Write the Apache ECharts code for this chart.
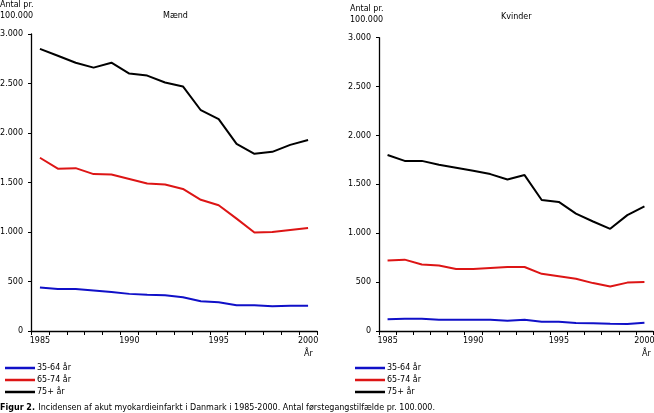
<!DOCTYPE html>
<html><head><meta charset="utf-8">
<script src="https://cdn.jsdelivr.net/npm/echarts@6/dist/echarts.min.js"></script>
<style>html,body{margin:0;padding:0;background:#fff}#c{width:654px;height:413px}</style>
</head><body><div id="c"></div>
<script>
const years = ['1985','1986','1987','1988','1989','1990','1991','1992','1993','1994','1995','1996','1997','1998','1999','2000'];
const seriesNames = ['35-64 år','65-74 år','75+ år'];
const men35 = [440,425,425,410,395,375,365,360,340,300,290,260,260,250,255,255];
const men65 = [1750,1640,1645,1585,1580,1535,1490,1480,1435,1325,1270,1135,995,1000,1020,1040];
const men75 = [2850,2780,2710,2660,2710,2600,2580,2510,2470,2230,2140,1890,1790,1810,1880,1930];
const wom35 = [120,125,125,115,115,115,115,105,115,95,95,82,80,75,72,85];
const wom65 = [720,730,680,670,635,635,645,655,655,585,560,535,490,455,495,500];
const wom75 = [1800,1740,1740,1700,1670,1640,1605,1550,1595,1340,1320,1200,1120,1045,1185,1275];
const colors = ['#1010c8','#dd1515','#000000'];
const FONT = 'DejaVu Sans';
const fmt = v => String(v).replace(/\B(?=(\d{3})+(?!\d))/g, '.');

const chart = echarts.init(document.getElementById('c'), null, {renderer:'canvas'});
function xAx(gi){
  return {type:'category', gridIndex:gi, data:years, boundaryGap:true,
    axisLine:{show:true, lineStyle:{color:'#000', width:1.3}},
    axisTick:{show:true, interval:0, length:4, inside:false, lineStyle:{color:'#000'}},
    axisLabel:{interval:4, color:'#000', fontFamily:FONT, fontSize:8, margin:6},
    splitLine:{show:false}};
}
function yAx(gi){
  return {type:'value', gridIndex:gi, min:0, max:3000, interval:500,
    axisLine:{show:true, lineStyle:{color:'#000', width:1.3}},
    axisTick:{show:true, length:3, lineStyle:{color:'#000'}},
    axisLabel:{color:'#000', fontFamily:FONT, fontSize:8, margin:8, formatter:fmt},
    splitLine:{show:false}};
}
function ser(name, data, gi, ci){
  return {name:name, type:'line', xAxisIndex:gi, yAxisIndex:gi, data:data,
    showSymbol:false, symbol:'none', lineStyle:{color:colors[ci], width:2}, itemStyle:{color:colors[ci]},
    animation:false};
}
function legend(left){
  return {orient:'vertical', left:left, top:359, itemGap:4, itemWidth:30, itemHeight:2.5, icon:'rect',
    data:seriesNames, textStyle:{color:'#000', fontFamily:FONT, fontSize:8, padding:[0,0,0,-3]}, selectedMode:false};
}
const txt = (x,y,t,opt) => Object.assign({type:'text', left:x, top:y, style:{text:t, fill:'#000', font:'8px "'+FONT+'"'}}, opt||{});

chart.setOption({
  animation:false,
  grid:[{left:31, right:337, top:34, bottom:82, containLabel:false, outerBoundsMode:'none'},
        {left:379, right:1, top:37.7, bottom:82, containLabel:false, outerBoundsMode:'none'}],
  xAxis:[xAx(0), xAx(1)],
  yAxis:[yAx(0), yAx(1)],
  legend:[legend(0), legend(350)],
  series:[
    ser(seriesNames[0], men35, 0, 0), ser(seriesNames[1], men65, 0, 1), ser(seriesNames[2], men75, 0, 2),
    ser(seriesNames[0], wom35, 1, 0), ser(seriesNames[1], wom65, 1, 1), ser(seriesNames[2], wom75, 1, 2)
  ],
  graphic:[
    txt(0, 1, 'Antal pr.'), txt(0, 12, '100.000'),
    txt(350, 5, 'Antal pr.'), txt(350, 16, '100.000'),
    {type:'text', left:163, top:12, style:{text:'Mænd', fill:'#000', font:'8px "'+FONT+'"'}},
    {type:'text', left:501, top:13, style:{text:'Kvinder', fill:'#000', font:'8px "'+FONT+'"'}},
    txt(304, 350, 'År'), txt(642, 350, 'År'),
    {type:'text', left:0, top:402, style:{rich:{b:{fontWeight:'bold', fontFamily:FONT, fontSize:8, fill:'#000'}, n:{fontFamily:FONT, fontSize:8, fill:'#000'}},
      text:'{b|Figur 2.} {n|Incidensen af akut myokardieinfarkt i Danmark i 1985-2000. Antal førstegangstilfælde pr. 100.000.}'}}
  ]
});
</script></body></html>
